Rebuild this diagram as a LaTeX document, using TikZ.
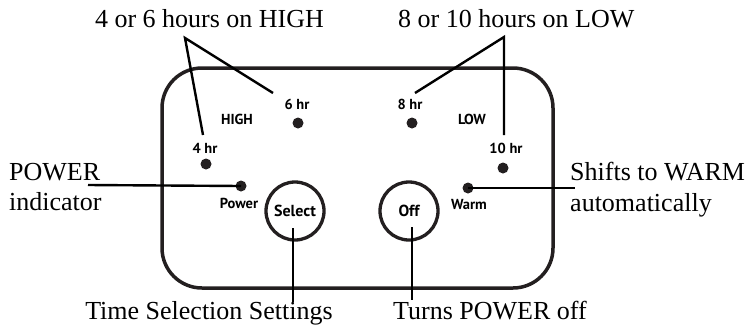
\documentclass[tikz,border=0pt]{standalone}
\usepackage{fontspec}
\setmainfont{Liberation Serif}
\newfontfamily\panelfont{PT Sans}
\usetikzlibrary{positioning}
\definecolor{cpanel}{HTML}{231F20}
\tikzset{
  every picture/.style={line width=2.4bp},
  callout/.style={font=\fontsize{26bp}{30bp}\selectfont, inner sep=0pt},
  tag/.style={font=\panelfont\bfseries\fontsize{14.5bp}{16bp}\selectfont, inner sep=0pt, anchor=base},
  led/.style={circle, fill=cpanel, inner sep=0pt, minimum size=11bp},
  knob/.style={circle, draw=cpanel, line width=3.3bp, minimum size=58bp, inner sep=0pt,
    font=\panelfont\bfseries\fontsize{16bp}{18bp}\selectfont},
  lead/.style={draw=black, line width=2.4bp},
}

\begin{document}
\begin{tikzpicture}[x=1bp, y=-1bp]
  \useasboundingbox (0,0) rectangle (748,327);
  % panel outline
  \draw[cpanel, line width=3.5bp, rounded corners=40bp] (162,68) rectangle (553,288);
  % callout texts
  \node[callout, anchor=base] (hightxt) at (209.5,27) {4 or 6 hours on HIGH};
  \node[callout, anchor=base west] (lowtxt) at (397,27) {8 or 10 hours on LOW};
  \node[callout, anchor=base west] (powtxt) at (8,180) {POWER};
  \node[callout, anchor=base west] (powtxtb) at (8,210) {indicator};
  \node[callout, anchor=base west] (warmtxt) at (569,180) {Shifts to WARM};
  \node[callout, anchor=base west] (warmtxtb) at (569,211) {automatically};
  \node[callout, anchor=base] (seltxt) at (209,319) {Time Selection Settings};
  \node[callout, anchor=base] (offtxt) at (490,319) {Turns POWER off};
  % panel labels
  \node[tag] (l4) at (205,153) {4 hr};
  \node[tag] (l6) at (297,109) {6 hr};
  \node[tag] (lhigh) at (237,124) {HIGH};
  \node[tag] (l8) at (410,109) {8 hr};
  \node[tag] (llow) at (472,124) {LOW};
  \node[tag] (l10) at (506,153) {10 hr};
  \node[tag] (lpow) at (239,208) {Power};
  \node[tag] (lwarm) at (469,209) {Warm};
  % lights
  \node[led] (d4) at (206,164) {};
  \node[led] (d6) at (298,123) {};
  \node[led] (d8) at (412,123) {};
  \node[led] (d10) at (503,168) {};
  \node[led] (dpow) at (241,186) {};
  \node[led] (dwarm) at (468,188) {};
  % buttons
  \node[knob] (sel) at (295,211) {Select};
  \node[knob] (off) at (409,211) {Off};
  % leader ends
  \coordinate (hiapex) at (185,38);
  \coordinate (hi4) at (203,135);
  \coordinate (hi6) at (273,93);
  \coordinate (loapex) at (504,37);
  \coordinate (lo8) at (415,93);
  \coordinate (lo10) at (504,135);
  \coordinate (powend) at (88,185);
  \coordinate (warmend) at (575,188);
  \coordinate (selin) at (293,228);
  \coordinate (selend) at (293,302);
  \coordinate (offin) at (412,227);
  \coordinate (offend) at (412,300);
  % leaders
  \draw[lead] (hi4) -- (hiapex) -- (hi6);
  \draw[lead] (lo8) -- (loapex) -- (lo10);
  \draw[lead] (powend) -- (dpow.center);
  \draw[lead] (dwarm.center) -- (warmend);
  \draw[lead] (selin) -- (selend);
  \draw[lead] (offin) -- (offend);
\end{tikzpicture}
\end{document}
